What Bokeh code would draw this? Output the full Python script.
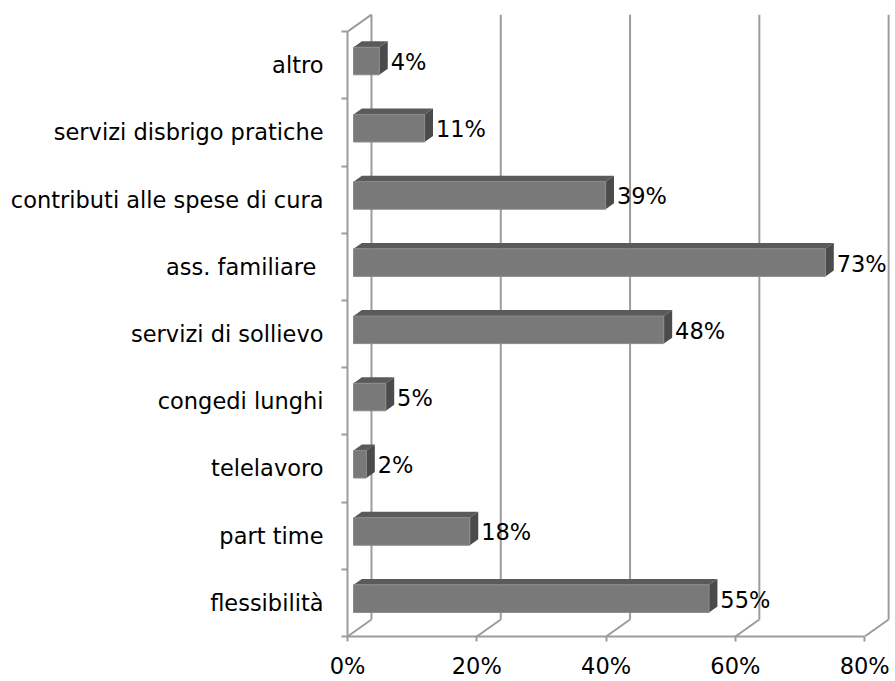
from bokeh.plotting import figure
from bokeh.models import Range1d, FixedTicker, ColumnDataSource
from bokeh.embed import file_html
from bokeh.resources import INLINE
from bokeh.core.properties import value

categories = ["flessibilità", "part time", "telelavoro", "congedi lunghi",
              "servizi di sollievo", "ass. familiare ", "contributi alle spese di cura",
              "servizi disbrigo pratiche", "altro"]
values = [55, 18, 2, 5, 48, 73, 39, 11, 4]
x_ticks = [0, 20, 40, 60, 80]
x_tick_labels = ["0%", "20%", "40%", "60%", "80%"]

FONT = "DejaVu Sans"
FS = "22.5px"
GRID = "#9c9c9c"

# 3D depth vector in data units
DX, DY = 3.71, 0.253
F0, F1 = 0.25, 0.60
BH = 0.41

n = len(categories)
p = figure(width=893, height=681,
           x_range=Range1d(0, 84.0), y_range=Range1d(-0.5, n - 0.5 + 0.3),
           output_backend="svg", toolbar_location=None,
           min_border_left=347, min_border_right=3, min_border_top=11, min_border_bottom=45)
p.outline_line_color = None
p.xgrid.visible = False
p.ygrid.visible = False
p.background_fill_color = "white"

# back wall gridlines
p.segment(x0=[t + DX for t in x_ticks], y0=[-0.5 + DY] * len(x_ticks),
          x1=[t + DX for t in x_ticks], y1=[n - 0.5 + DY] * len(x_ticks),
          line_color=GRID, line_width=2)
# floor diagonals
p.segment(x0=x_ticks, y0=[-0.5] * len(x_ticks),
          x1=[t + DX for t in x_ticks], y1=[-0.5 + DY] * len(x_ticks),
          line_color=GRID, line_width=2)
# left wall top diagonal
p.segment(x0=[0], y0=[n - 0.5], x1=[DX], y1=[n - 0.5 + DY], line_color=GRID, line_width=2)

# bars
L, R, B, T = [], [], [], []
for i, v in enumerate(values):
    L.append(DX * F0)
    R.append(v + DX * F0)
    B.append(i - BH / 2 + DY * F0)
    T.append(i + BH / 2 + DY * F0)
ddx = DX * (F1 - F0)
ddy = DY * (F1 - F0)
p.patches(xs=[[l, r, r + ddx, l + ddx] for l, r in zip(L, R)],
          ys=[[t, t, t + ddy, t + ddy] for t in T],
          fill_color="#5a5a5a", line_color=None)
p.patches(xs=[[r, r + ddx, r + ddx, r] for r in R],
          ys=[[b, b + ddy, t + ddy, t] for b, t in zip(B, T)],
          fill_color="#4b4b4b", line_color=None)
p.quad(left=L, right=R, bottom=B, top=T, fill_color="#797979", line_color="#8a8a8a", line_width=1)

# value labels
src = ColumnDataSource(dict(x=[v + DX * F1 + 0.45 for v in values],
                            y=[i + 0.05 for i in range(n)],
                            t=[f"{v}%" for v in values]))
p.text(x="x", y="y", text="t", source=src, text_font=value(FONT), text_font_size=FS,
       text_baseline="middle", text_align="left", text_color="black")

# axes
xa = p.xaxis[0]
xa.ticker = FixedTicker(ticks=x_ticks)
xa.major_label_overrides = {t: s for t, s in zip(x_ticks, x_tick_labels)}
xa.bounds = (0, 80)
xa.axis_line_color = GRID
xa.axis_line_width = 2
xa.major_tick_line_color = GRID
xa.major_tick_line_width = 2
xa.major_tick_out = 5
xa.major_tick_in = 0
xa.minor_tick_line_color = None
xa.major_label_text_font = FONT
xa.major_label_text_font_size = FS
xa.major_label_text_color = "black"
xa.major_label_standoff = 11

ya = p.yaxis[0]
ya.ticker = FixedTicker(ticks=list(range(n)), minor_ticks=[i - 0.5 for i in range(n + 1)])
ya.major_label_overrides = {i: c for i, c in enumerate(categories)}
ya.bounds = (-0.5, n - 0.5)
ya.axis_line_color = GRID
ya.axis_line_width = 2
ya.major_tick_line_color = None
ya.major_tick_out = 0
ya.major_tick_in = 0
ya.minor_tick_line_color = GRID
ya.minor_tick_line_width = 2
ya.minor_tick_out = 6
ya.minor_tick_in = 0
ya.major_label_text_font = FONT
ya.major_label_text_font_size = FS
ya.major_label_text_color = "black"
ya.major_label_standoff = 18

open("out.html", "w").write(file_html(p, INLINE))
